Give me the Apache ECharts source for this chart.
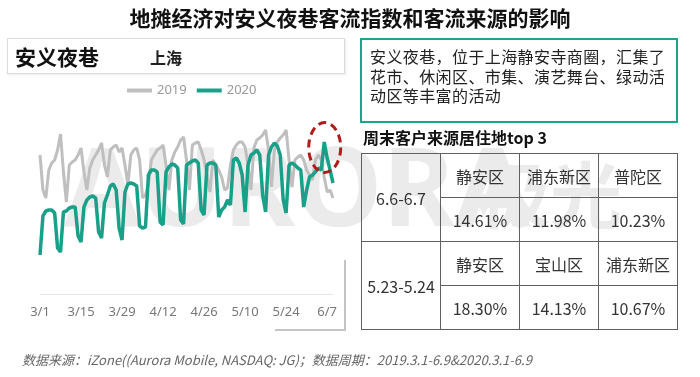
<!DOCTYPE html>
<html>
<head>
<meta charset="utf-8">
<script src="https://cdn.jsdelivr.net/npm/echarts@6.0.0/dist/echarts.min.js"></script>
<style>
body { margin: 0; width: 700px; height: 377px; overflow: hidden; background: #fff; position: relative;
       font-family: "Noto Sans CJK SC", "Noto Sans", sans-serif; }
#chart { position: absolute; left: 0; top: 0; width: 700px; height: 377px; }
.abs { position: absolute; }
#title { left: 0; top: 3px; width: 700px; text-align: center; font-size: 21px; font-weight: bold; color: #111; line-height: 28px; }
#placeBox { left: 7px; top: 38px; width: 336px; height: 34px; border: 1px solid #dcdcdc; box-shadow: 1px 1px 2px rgba(0,0,0,0.08); }
#placeName { left: 15px; top: 41px; font-size: 21px; font-weight: bold; color: #111; line-height: 30px; }
#city { left: 150px; top: 45px; font-size: 16px; font-weight: bold; color: #222; line-height: 24px; }
#descBox { left: 360px; top: 38px; width: 314px; height: 81px; border: 2px solid #1ba58c; }
#desc { left: 370px; top: 47px; font-size: 16px; letter-spacing: 0.4px; line-height: 19.5px; color: #222; }
#subTitle { left: 363px; top: 125px; font-size: 16px; font-weight: bold; color: #111; line-height: 24px; }
#table { left: 361px; top: 153px; border-collapse: collapse; font-size: 16px; color: #333; }
#table td { border: 1px solid #606060; text-align: center; padding: 0; height: 43px; width: 78px; }
#footer { left: 22px; top: 350px; font-size: 13px; font-style: italic; color: #666; line-height: 20px; }
</style>
</head>
<body>
<div id="chart"></div>
<div id="title" class="abs">地摊经济对安义夜巷客流指数和客流来源的影响</div>
<div id="placeBox" class="abs"></div>
<div id="placeName" class="abs">安义夜巷</div>
<div id="city" class="abs">上海</div>
<div id="descBox" class="abs"></div>
<div id="desc" class="abs">安义夜巷，位于上海静安寺商圈，汇集了<br>花市、休闲区、市集、演艺舞台、绿动活<br>动区等丰富的活动</div>
<div id="subTitle" class="abs">周末客户来源居住地top 3</div>
<table id="table" class="abs"></table>
<div id="footer" class="abs">数据来源：iZone((Aurora Mobile, NASDAQ: JG)；数据周期：2019.3.1-6.9&amp;2020.3.1-6.9</div>
<script>
// daily index, 3/1 - 6/9
const monthDays = [[3, 31], [4, 30], [5, 31], [6, 9]];
const seriesNames = ['2019', '2020'];

const values2019 = [
    139, 104, 96, 124, 131, 134, 144, 160, 122, 92,
    129, 132, 134, 139, 146, 122, 104, 126, 134, 139,
    144, 151, 129, 117, 144, 147, 149, 142, 146, 129,
    109, 139, 144, 146, 134, 96, 99, 109, 134, 139,
    144, 146, 149, 129, 104, 134, 142, 147, 154, 157,
    134, 104, 149, 151, 152, 144, 134, 119, 102, 134,
    129, 124, 117, 104, 106, 129, 144, 149, 152, 152,
    147, 129, 104, 146, 154, 156, 159, 164, 144, 107,
    144, 152, 156, 159, 164, 134, 107, 134, 137, 139,
    134, 124, 119, 114, 134, 139, 134, 117, 102, 104,
    96
];

const values2020 = [
    39, 78, 83, 84, 84, 81, 46, 42, 82, 83,
    86, 87, 87, 58, 52, 87, 94, 97, 98, 96,
    62, 56, 91, 99, 108, 110, 104, 66, 54, 102,
    110, 111, 110, 108, 68, 66, 67, 119, 124, 124,
    122, 72, 69, 122, 127, 130, 129, 126, 74, 70,
    129, 131, 133, 134, 131, 84, 79, 129, 131, 131,
    129, 77, 84, 87, 94, 89, 134, 136, 131, 119,
    82, 129, 139, 141, 144, 139, 99, 82, 139, 147,
    151, 148, 139, 94, 81, 129, 131, 129, 126, 124,
    87, 104, 117, 119, 122, 126, 124, 152, 136, 124,
    111
];

const peakIndex = 97; // 6/6

const tableRows = [
    ['6.6-6.7', ['静安区', '浦东新区', '普陀区'], ['14.61%', '11.98%', '10.23%']],
    ['5.23-5.24', ['静安区', '宝山区', '浦东新区'], ['18.30%', '14.13%', '10.67%']]
];

const dates = [];
monthDays.forEach(([m, n]) => {
    for (let d = 1; d <= n; d++) dates.push(m + '/' + d);
});

function buildTable() {
    let html = '';
    tableRows.forEach(([period, names, shares]) => {
        html += '<tr><td rowspan="2">' + period + '</td>' + names.map(n => '<td>' + n + '</td>').join('') + '</tr>';
        html += '<tr>' + shares.map(s => '<td>' + s + '</td>').join('') + '</tr>';
    });
    document.getElementById('table').innerHTML = html;
}
buildTable();

const chart = echarts.init(document.getElementById('chart'), null, { renderer: 'canvas' });

const option = {
    animation: false,
    backgroundColor: 'transparent',
    grid: { left: 40, right: 367, top: 120, bottom: 83, containLabel: false },
    legend: {
        left: 122,
        top: 79,
        itemWidth: 25,
        itemHeight: 4,
        itemGap: 10,
        icon: 'rect',
        textStyle: { color: '#999', fontSize: 13, fontFamily: 'Noto Sans' },
        data: seriesNames
    },
    xAxis: {
        type: 'category',
        data: dates,
        boundaryGap: false,
        axisLine: { lineStyle: { color: '#e6e6e6', width: 1 } },
        axisTick: { show: false },
        axisLabel: { interval: 13, color: '#777', fontSize: 13, margin: 12, fontFamily: 'Noto Sans' },
        splitLine: { show: false }
    },
    yAxis: { type: 'value', min: 0, max: 174, show: false },
    graphic: [
        {
            id: 'watermark', type: 'text', z: 0, silent: true,
            style: { x: 64, y: 195, text: 'AURORA', fontSize: 110, fontWeight: 'bold', verticalAlign: 'middle',
                     fontFamily: 'Noto Sans', fill: '#ebebeb' }
        },
        {
            id: 'watermarkCn', type: 'text', z: 0, silent: true,
            style: { x: 478, y: 195, text: '极光', fontSize: 72, fontWeight: 'bold', verticalAlign: 'middle',
                     fontFamily: 'Noto Sans CJK SC', fill: '#ebebeb' }
        },
        {
            id: 'shadow', type: 'polyline', silent: true,
            shape: { points: [[345, 260], [345, 330], [275, 330]] },
            style: { stroke: '#c4c4c4', lineWidth: 2, fill: null }
        }
    ],
    series: [
        {
            name: seriesNames[0], type: 'line', data: values2019, symbol: 'none',
            itemStyle: { color: '#bfbfbf' },
            lineStyle: { color: '#bfbfbf', width: 3 }
        },
        {
            name: seriesNames[1], type: 'line', data: values2020, symbol: 'none',
            itemStyle: { color: '#1aa088' },
            lineStyle: { color: '#1aa088', width: 3.5 }
        }
    ]
};

chart.setOption(option);

// dashed circle around the 6/6 spike
const p = chart.convertToPixel({ seriesIndex: 1 }, [peakIndex, values2020[peakIndex]]);
chart.setOption({
    graphic: [{
        id: 'ring', type: 'ellipse', silent: true, z: 10,
        shape: { cx: p[0] + 0.5, cy: p[1] + 5.5, rx: 16, ry: 25 },
        style: { stroke: '#b01c1c', lineWidth: 3, lineDash: [8, 5], fill: null }
    }]
});
</script>
</body>
</html>
